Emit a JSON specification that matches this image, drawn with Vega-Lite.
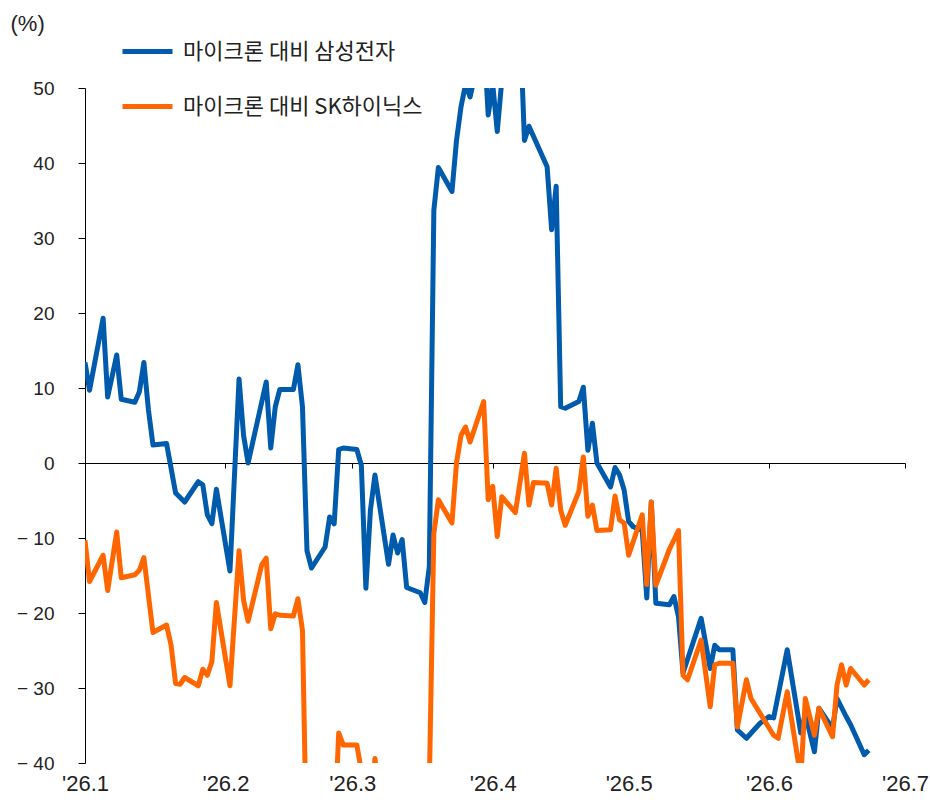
{
  "$schema": "https://vega.github.io/schema/vega-lite/v6.json",
  "width": 820,
  "height": 675,
  "autosize": {"type": "none"},
  "padding": {"left": 85, "top": 88, "right": 25, "bottom": 39},
  "background": "white",
  "config": {"view": {"stroke": null}, "font": "Liberation Sans"},
  "data": {
    "values": [
      {"d": "2026-01-01T00:00:00", "s": "삼성전자", "v": 13.4},
      {"d": "2026-01-02T00:00:00", "s": "삼성전자", "v": 9.7},
      {"d": "2026-01-05T00:00:00", "s": "삼성전자", "v": 19.3},
      {"d": "2026-01-06T00:00:00", "s": "삼성전자", "v": 8.8},
      {"d": "2026-01-08T00:00:00", "s": "삼성전자", "v": 14.4},
      {"d": "2026-01-09T00:00:00", "s": "삼성전자", "v": 8.5},
      {"d": "2026-01-12T00:00:00", "s": "삼성전자", "v": 8.1},
      {"d": "2026-01-13T00:00:00", "s": "삼성전자", "v": 9.5},
      {"d": "2026-01-14T00:00:00", "s": "삼성전자", "v": 13.4},
      {"d": "2026-01-15T00:00:00", "s": "삼성전자", "v": 7.1},
      {"d": "2026-01-16T00:00:00", "s": "삼성전자", "v": 2.4},
      {"d": "2026-01-19T00:00:00", "s": "삼성전자", "v": 2.6},
      {"d": "2026-01-21T00:00:00", "s": "삼성전자", "v": -4.0},
      {"d": "2026-01-23T00:00:00", "s": "삼성전자", "v": -5.2},
      {"d": "2026-01-26T00:00:00", "s": "삼성전자", "v": -2.5},
      {"d": "2026-01-27T00:00:00", "s": "삼성전자", "v": -2.9},
      {"d": "2026-01-28T00:00:00", "s": "삼성전자", "v": -6.9},
      {"d": "2026-01-29T00:00:00", "s": "삼성전자", "v": -8.1},
      {"d": "2026-01-30T00:00:00", "s": "삼성전자", "v": -3.5},
      {"d": "2026-02-02T00:00:00", "s": "삼성전자", "v": -14.4},
      {"d": "2026-02-04T00:00:00", "s": "삼성전자", "v": 11.2},
      {"d": "2026-02-05T00:00:00", "s": "삼성전자", "v": 3.7},
      {"d": "2026-02-06T00:00:00", "s": "삼성전자", "v": 0.0},
      {"d": "2026-02-10T00:00:00", "s": "삼성전자", "v": 10.8},
      {"d": "2026-02-11T00:00:00", "s": "삼성전자", "v": 2.0},
      {"d": "2026-02-12T00:00:00", "s": "삼성전자", "v": 7.5},
      {"d": "2026-02-13T00:00:00", "s": "삼성전자", "v": 9.8},
      {"d": "2026-02-16T00:00:00", "s": "삼성전자", "v": 9.8},
      {"d": "2026-02-17T00:00:00", "s": "삼성전자", "v": 13.1},
      {"d": "2026-02-18T00:00:00", "s": "삼성전자", "v": 7.5},
      {"d": "2026-02-19T00:00:00", "s": "삼성전자", "v": -11.7},
      {"d": "2026-02-20T00:00:00", "s": "삼성전자", "v": -14.0},
      {"d": "2026-02-23T00:00:00", "s": "삼성전자", "v": -11.2},
      {"d": "2026-02-24T00:00:00", "s": "삼성전자", "v": -7.2},
      {"d": "2026-02-25T00:00:00", "s": "삼성전자", "v": -8.1},
      {"d": "2026-02-26T00:00:00", "s": "삼성전자", "v": 1.8},
      {"d": "2026-02-27T00:00:00", "s": "삼성전자", "v": 2.0},
      {"d": "2026-03-02T00:00:00", "s": "삼성전자", "v": 1.8},
      {"d": "2026-03-03T00:00:00", "s": "삼성전자", "v": -0.3},
      {"d": "2026-03-04T00:00:00", "s": "삼성전자", "v": -16.7},
      {"d": "2026-03-05T00:00:00", "s": "삼성전자", "v": -6.3},
      {"d": "2026-03-06T00:00:00", "s": "삼성전자", "v": -1.6},
      {"d": "2026-03-09T00:00:00", "s": "삼성전자", "v": -13.5},
      {"d": "2026-03-10T00:00:00", "s": "삼성전자", "v": -9.6},
      {"d": "2026-03-11T00:00:00", "s": "삼성전자", "v": -12.0},
      {"d": "2026-03-12T00:00:00", "s": "삼성전자", "v": -10.2},
      {"d": "2026-03-13T00:00:00", "s": "삼성전자", "v": -16.6},
      {"d": "2026-03-16T00:00:00", "s": "삼성전자", "v": -17.3},
      {"d": "2026-03-17T00:00:00", "s": "삼성전자", "v": -18.6},
      {"d": "2026-03-18T00:00:00", "s": "삼성전자", "v": -13.8},
      {"d": "2026-03-19T00:00:00", "s": "삼성전자", "v": 33.7},
      {"d": "2026-03-20T00:00:00", "s": "삼성전자", "v": 39.4},
      {"d": "2026-03-23T00:00:00", "s": "삼성전자", "v": 36.2},
      {"d": "2026-03-24T00:00:00", "s": "삼성전자", "v": 43.0},
      {"d": "2026-03-25T00:00:00", "s": "삼성전자", "v": 47.5},
      {"d": "2026-03-26T00:00:00", "s": "삼성전자", "v": 50.5},
      {"d": "2026-03-27T00:00:00", "s": "삼성전자", "v": 48.8},
      {"d": "2026-03-30T00:00:00", "s": "삼성전자", "v": 57.0},
      {"d": "2026-03-31T00:00:00", "s": "삼성전자", "v": 46.4},
      {"d": "2026-04-01T00:00:00", "s": "삼성전자", "v": 50.5},
      {"d": "2026-04-02T00:00:00", "s": "삼성전자", "v": 44.2},
      {"d": "2026-04-03T00:00:00", "s": "삼성전자", "v": 51.0},
      {"d": "2026-04-06T00:00:00", "s": "삼성전자", "v": 60.0},
      {"d": "2026-04-07T00:00:00", "s": "삼성전자", "v": 59.0},
      {"d": "2026-04-08T00:00:00", "s": "삼성전자", "v": 43.0},
      {"d": "2026-04-09T00:00:00", "s": "삼성전자", "v": 44.9},
      {"d": "2026-04-13T00:00:00", "s": "삼성전자", "v": 39.5},
      {"d": "2026-04-14T00:00:00", "s": "삼성전자", "v": 31.1},
      {"d": "2026-04-15T00:00:00", "s": "삼성전자", "v": 36.9},
      {"d": "2026-04-16T00:00:00", "s": "삼성전자", "v": 7.5},
      {"d": "2026-04-17T00:00:00", "s": "삼성전자", "v": 7.3},
      {"d": "2026-04-20T00:00:00", "s": "삼성전자", "v": 8.2},
      {"d": "2026-04-21T00:00:00", "s": "삼성전자", "v": 10.1},
      {"d": "2026-04-22T00:00:00", "s": "삼성전자", "v": 1.7},
      {"d": "2026-04-23T00:00:00", "s": "삼성전자", "v": 5.3},
      {"d": "2026-04-24T00:00:00", "s": "삼성전자", "v": 0.0},
      {"d": "2026-04-27T00:00:00", "s": "삼성전자", "v": -3.2},
      {"d": "2026-04-28T00:00:00", "s": "삼성전자", "v": -0.6},
      {"d": "2026-04-29T00:00:00", "s": "삼성전자", "v": -1.6},
      {"d": "2026-04-30T00:00:00", "s": "삼성전자", "v": -3.6},
      {"d": "2026-05-01T00:00:00", "s": "삼성전자", "v": -7.8},
      {"d": "2026-05-02T00:00:00", "s": "삼성전자", "v": -8.5},
      {"d": "2026-05-04T00:00:00", "s": "삼성전자", "v": -9.0},
      {"d": "2026-05-05T00:00:00", "s": "삼성전자", "v": -18.0},
      {"d": "2026-05-06T00:00:00", "s": "삼성전자", "v": -5.2},
      {"d": "2026-05-07T00:00:00", "s": "삼성전자", "v": -18.7},
      {"d": "2026-05-10T00:00:00", "s": "삼성전자", "v": -18.9},
      {"d": "2026-05-11T00:00:00", "s": "삼성전자", "v": -17.8},
      {"d": "2026-05-12T00:00:00", "s": "삼성전자", "v": -20.5},
      {"d": "2026-05-13T00:00:00", "s": "삼성전자", "v": -28.0},
      {"d": "2026-05-17T00:00:00", "s": "삼성전자", "v": -20.7},
      {"d": "2026-05-19T00:00:00", "s": "삼성전자", "v": -27.4},
      {"d": "2026-05-20T00:00:00", "s": "삼성전자", "v": -24.3},
      {"d": "2026-05-21T00:00:00", "s": "삼성전자", "v": -24.9},
      {"d": "2026-05-24T00:00:00", "s": "삼성전자", "v": -24.9},
      {"d": "2026-05-25T00:00:00", "s": "삼성전자", "v": -35.6},
      {"d": "2026-05-27T00:00:00", "s": "삼성전자", "v": -36.7},
      {"d": "2026-05-30T00:00:00", "s": "삼성전자", "v": -34.7},
      {"d": "2026-06-01T00:00:00", "s": "삼성전자", "v": -33.8},
      {"d": "2026-06-02T00:00:00", "s": "삼성전자", "v": -34.0},
      {"d": "2026-06-05T00:00:00", "s": "삼성전자", "v": -24.9},
      {"d": "2026-06-08T00:00:00", "s": "삼성전자", "v": -36.0},
      {"d": "2026-06-09T00:00:00", "s": "삼성전자", "v": -33.5},
      {"d": "2026-06-11T00:00:00", "s": "삼성전자", "v": -38.5},
      {"d": "2026-06-12T00:00:00", "s": "삼성전자", "v": -32.7},
      {"d": "2026-06-15T00:00:00", "s": "삼성전자", "v": -35.4},
      {"d": "2026-06-16T00:00:00", "s": "삼성전자", "v": -31.4},
      {"d": "2026-06-18T00:00:00", "s": "삼성전자", "v": -33.8},
      {"d": "2026-06-19T00:00:00", "s": "삼성전자", "v": -34.9},
      {"d": "2026-06-22T00:00:00", "s": "삼성전자", "v": -38.9},
      {"d": "2026-06-23T00:00:00", "s": "삼성전자", "v": -38.3},

      {"d": "2026-01-01T00:00:00", "s": "SK하이닉스", "v": -10.3},
      {"d": "2026-01-02T00:00:00", "s": "SK하이닉스", "v": -15.8},
      {"d": "2026-01-05T00:00:00", "s": "SK하이닉스", "v": -12.3},
      {"d": "2026-01-06T00:00:00", "s": "SK하이닉스", "v": -17.0},
      {"d": "2026-01-08T00:00:00", "s": "SK하이닉스", "v": -9.2},
      {"d": "2026-01-09T00:00:00", "s": "SK하이닉스", "v": -15.3},
      {"d": "2026-01-12T00:00:00", "s": "SK하이닉스", "v": -14.9},
      {"d": "2026-01-13T00:00:00", "s": "SK하이닉스", "v": -14.3},
      {"d": "2026-01-14T00:00:00", "s": "SK하이닉스", "v": -12.6},
      {"d": "2026-01-16T00:00:00", "s": "SK하이닉스", "v": -22.6},
      {"d": "2026-01-19T00:00:00", "s": "SK하이닉스", "v": -21.6},
      {"d": "2026-01-20T00:00:00", "s": "SK하이닉스", "v": -24.3},
      {"d": "2026-01-21T00:00:00", "s": "SK하이닉스", "v": -29.4},
      {"d": "2026-01-22T00:00:00", "s": "SK하이닉스", "v": -29.5},
      {"d": "2026-01-23T00:00:00", "s": "SK하이닉스", "v": -28.6},
      {"d": "2026-01-26T00:00:00", "s": "SK하이닉스", "v": -29.7},
      {"d": "2026-01-27T00:00:00", "s": "SK하이닉스", "v": -27.5},
      {"d": "2026-01-28T00:00:00", "s": "SK하이닉스", "v": -28.3},
      {"d": "2026-01-29T00:00:00", "s": "SK하이닉스", "v": -26.5},
      {"d": "2026-01-30T00:00:00", "s": "SK하이닉스", "v": -18.6},
      {"d": "2026-02-02T00:00:00", "s": "SK하이닉스", "v": -29.7},
      {"d": "2026-02-04T00:00:00", "s": "SK하이닉스", "v": -11.7},
      {"d": "2026-02-05T00:00:00", "s": "SK하이닉스", "v": -18.3},
      {"d": "2026-02-06T00:00:00", "s": "SK하이닉스", "v": -21.1},
      {"d": "2026-02-09T00:00:00", "s": "SK하이닉스", "v": -13.6},
      {"d": "2026-02-10T00:00:00", "s": "SK하이닉스", "v": -12.7},
      {"d": "2026-02-11T00:00:00", "s": "SK하이닉스", "v": -22.1},
      {"d": "2026-02-12T00:00:00", "s": "SK하이닉스", "v": -20.1},
      {"d": "2026-02-13T00:00:00", "s": "SK하이닉스", "v": -20.3},
      {"d": "2026-02-16T00:00:00", "s": "SK하이닉스", "v": -20.4},
      {"d": "2026-02-17T00:00:00", "s": "SK하이닉스", "v": -18.1},
      {"d": "2026-02-18T00:00:00", "s": "SK하이닉스", "v": -22.3},
      {"d": "2026-02-19T00:00:00", "s": "SK하이닉스", "v": -54.0},
      {"d": "2026-02-20T00:00:00", "s": "SK하이닉스", "v": -56.0},
      {"d": "2026-02-23T00:00:00", "s": "SK하이닉스", "v": -53.0},
      {"d": "2026-02-24T00:00:00", "s": "SK하이닉스", "v": -52.0},
      {"d": "2026-02-25T00:00:00", "s": "SK하이닉스", "v": -50.0},
      {"d": "2026-02-26T00:00:00", "s": "SK하이닉스", "v": -36.0},
      {"d": "2026-02-27T00:00:00", "s": "SK하이닉스", "v": -37.6},
      {"d": "2026-03-02T00:00:00", "s": "SK하이닉스", "v": -37.6},
      {"d": "2026-03-03T00:00:00", "s": "SK하이닉스", "v": -41.0},
      {"d": "2026-03-04T00:00:00", "s": "SK하이닉스", "v": -52.0},
      {"d": "2026-03-05T00:00:00", "s": "SK하이닉스", "v": -48.0},
      {"d": "2026-03-06T00:00:00", "s": "SK하이닉스", "v": -39.4},
      {"d": "2026-03-09T00:00:00", "s": "SK하이닉스", "v": -55.0},
      {"d": "2026-03-10T00:00:00", "s": "SK하이닉스", "v": -50.0},
      {"d": "2026-03-11T00:00:00", "s": "SK하이닉스", "v": -53.0},
      {"d": "2026-03-12T00:00:00", "s": "SK하이닉스", "v": -51.0},
      {"d": "2026-03-13T00:00:00", "s": "SK하이닉스", "v": -56.0},
      {"d": "2026-03-16T00:00:00", "s": "SK하이닉스", "v": -57.0},
      {"d": "2026-03-17T00:00:00", "s": "SK하이닉스", "v": -60.0},
      {"d": "2026-03-18T00:00:00", "s": "SK하이닉스", "v": -43.0},
      {"d": "2026-03-19T00:00:00", "s": "SK하이닉스", "v": -9.4},
      {"d": "2026-03-20T00:00:00", "s": "SK하이닉스", "v": -4.9},
      {"d": "2026-03-23T00:00:00", "s": "SK하이닉스", "v": -8.0},
      {"d": "2026-03-24T00:00:00", "s": "SK하이닉스", "v": 0.0},
      {"d": "2026-03-25T00:00:00", "s": "SK하이닉스", "v": 3.7},
      {"d": "2026-03-26T00:00:00", "s": "SK하이닉스", "v": 4.8},
      {"d": "2026-03-27T00:00:00", "s": "SK하이닉스", "v": 2.8},
      {"d": "2026-03-30T00:00:00", "s": "SK하이닉스", "v": 8.2},
      {"d": "2026-03-31T00:00:00", "s": "SK하이닉스", "v": -4.9},
      {"d": "2026-04-01T00:00:00", "s": "SK하이닉스", "v": -3.1},
      {"d": "2026-04-02T00:00:00", "s": "SK하이닉스", "v": -9.8},
      {"d": "2026-04-03T00:00:00", "s": "SK하이닉스", "v": -4.5},
      {"d": "2026-04-06T00:00:00", "s": "SK하이닉스", "v": -6.6},
      {"d": "2026-04-08T00:00:00", "s": "SK하이닉스", "v": 1.3},
      {"d": "2026-04-09T00:00:00", "s": "SK하이닉스", "v": -5.6},
      {"d": "2026-04-10T00:00:00", "s": "SK하이닉스", "v": -2.6},
      {"d": "2026-04-13T00:00:00", "s": "SK하이닉스", "v": -2.7},
      {"d": "2026-04-14T00:00:00", "s": "SK하이닉스", "v": -5.6},
      {"d": "2026-04-15T00:00:00", "s": "SK하이닉스", "v": -0.7},
      {"d": "2026-04-16T00:00:00", "s": "SK하이닉스", "v": -6.3},
      {"d": "2026-04-17T00:00:00", "s": "SK하이닉스", "v": -8.3},
      {"d": "2026-04-20T00:00:00", "s": "SK하이닉스", "v": -3.8},
      {"d": "2026-04-21T00:00:00", "s": "SK하이닉스", "v": 0.8},
      {"d": "2026-04-22T00:00:00", "s": "SK하이닉스", "v": -7.1},
      {"d": "2026-04-23T00:00:00", "s": "SK하이닉스", "v": -5.6},
      {"d": "2026-04-24T00:00:00", "s": "SK하이닉스", "v": -9.0},
      {"d": "2026-04-27T00:00:00", "s": "SK하이닉스", "v": -8.9},
      {"d": "2026-04-28T00:00:00", "s": "SK하이닉스", "v": -4.4},
      {"d": "2026-04-29T00:00:00", "s": "SK하이닉스", "v": -7.6},
      {"d": "2026-04-30T00:00:00", "s": "SK하이닉스", "v": -8.0},
      {"d": "2026-05-01T00:00:00", "s": "SK하이닉스", "v": -12.3},
      {"d": "2026-05-04T00:00:00", "s": "SK하이닉스", "v": -6.9},
      {"d": "2026-05-05T00:00:00", "s": "SK하이닉스", "v": -16.2},
      {"d": "2026-05-06T00:00:00", "s": "SK하이닉스", "v": -5.2},
      {"d": "2026-05-07T00:00:00", "s": "SK하이닉스", "v": -16.3},
      {"d": "2026-05-10T00:00:00", "s": "SK하이닉스", "v": -11.5},
      {"d": "2026-05-12T00:00:00", "s": "SK하이닉스", "v": -9.0},
      {"d": "2026-05-13T00:00:00", "s": "SK하이닉스", "v": -28.3},
      {"d": "2026-05-14T00:00:00", "s": "SK하이닉스", "v": -28.9},
      {"d": "2026-05-17T00:00:00", "s": "SK하이닉스", "v": -23.6},
      {"d": "2026-05-19T00:00:00", "s": "SK하이닉스", "v": -32.5},
      {"d": "2026-05-20T00:00:00", "s": "SK하이닉스", "v": -26.9},
      {"d": "2026-05-21T00:00:00", "s": "SK하이닉스", "v": -26.7},
      {"d": "2026-05-24T00:00:00", "s": "SK하이닉스", "v": -26.7},
      {"d": "2026-05-25T00:00:00", "s": "SK하이닉스", "v": -35.2},
      {"d": "2026-05-27T00:00:00", "s": "SK하이닉스", "v": -28.9},
      {"d": "2026-05-28T00:00:00", "s": "SK하이닉스", "v": -31.4},
      {"d": "2026-06-02T00:00:00", "s": "SK하이닉스", "v": -36.3},
      {"d": "2026-06-03T00:00:00", "s": "SK하이닉스", "v": -36.7},
      {"d": "2026-06-05T00:00:00", "s": "SK하이닉스", "v": -30.5},
      {"d": "2026-06-08T00:00:00", "s": "SK하이닉스", "v": -42.0},
      {"d": "2026-06-09T00:00:00", "s": "SK하이닉스", "v": -31.4},
      {"d": "2026-06-11T00:00:00", "s": "SK하이닉스", "v": -36.3},
      {"d": "2026-06-12T00:00:00", "s": "SK하이닉스", "v": -32.7},
      {"d": "2026-06-15T00:00:00", "s": "SK하이닉스", "v": -36.5},
      {"d": "2026-06-16T00:00:00", "s": "SK하이닉스", "v": -29.6},
      {"d": "2026-06-17T00:00:00", "s": "SK하이닉스", "v": -26.9},
      {"d": "2026-06-18T00:00:00", "s": "SK하이닉스", "v": -29.6},
      {"d": "2026-06-19T00:00:00", "s": "SK하이닉스", "v": -27.4},
      {"d": "2026-06-22T00:00:00", "s": "SK하이닉스", "v": -29.6},
      {"d": "2026-06-23T00:00:00", "s": "SK하이닉스", "v": -28.9}
    ]
  },
  "mark": {"type": "line", "strokeWidth": 5, "clip": true, "strokeJoin": "round"},
  "encoding": {
    "x": {
      "field": "d",
      "type": "temporal",
      "scale": {"domain": [{"year": 2026, "month": 1, "date": 1}, {"year": 2026, "month": 7, "date": 1}]},
      "axis": {
        "title": null,
        "values": [
          {"year": 2026, "month": 1, "date": 1},
          {"year": 2026, "month": 2, "date": 1},
          {"year": 2026, "month": 3, "date": 1},
          {"year": 2026, "month": 4, "date": 1},
          {"year": 2026, "month": 5, "date": 1},
          {"year": 2026, "month": 6, "date": 1},
          {"year": 2026, "month": 7, "date": 1}
        ],
        "format": "'%y.%-m",
        "offset": -300,
        "tickSize": 5,
        "labelPadding": 305,
        "labelFlush": false,
        "labelOverlap": false,
        "labelFontSize": 22,
        "labelColor": "#222222",
        "domainColor": "#000000",
        "tickColor": "#000000",
        "grid": false
      }
    },
    "y": {
      "field": "v",
      "type": "quantitative",
      "scale": {"domain": [-40, 50], "nice": false, "zero": false},
      "axis": {
        "values": [-40, -30, -20, -10, 0, 10, 20, 30, 40, 50],
        "labelExpr": "datum.value < 0 ? '\u2212 ' + abs(datum.value) : datum.label",
        "title": "(%)",
        "titleAngle": 0,
        "titleAlign": "left",
        "titleBaseline": "middle",
        "titleX": -75,
        "titleY": -65,
        "titleFontSize": 22,
        "titleFontWeight": "normal",
        "titleColor": "#222222",
        "tickSize": 7,
        "labelPadding": 24,
        "labelFontSize": 19,
        "labelColor": "#222222",
        "domainColor": "#000000",
        "tickColor": "#000000",
        "grid": false
      }
    },
    "color": {
      "field": "s",
      "type": "nominal",
      "scale": {"domain": ["삼성전자", "SK하이닉스"], "range": ["#005BAC", "#FF6600"]},
      "legend": {
        "title": null,
        "orient": "none",
        "legendX": 35,
        "legendY": -64,
        "symbolType": "stroke",
        "symbolSize": 2500,
        "symbolStrokeWidth": 5,
        "labelFontSize": 22,
        "labelFont": "Noto Sans CJK KR",
        "labelColor": "#222222",
        "labelLimit": 400,
        "labelOffset": 8,
        "rowPadding": 16,
        "labelExpr": "'마이크론 대비 ' + datum.label"
      }
    }
  }
}
